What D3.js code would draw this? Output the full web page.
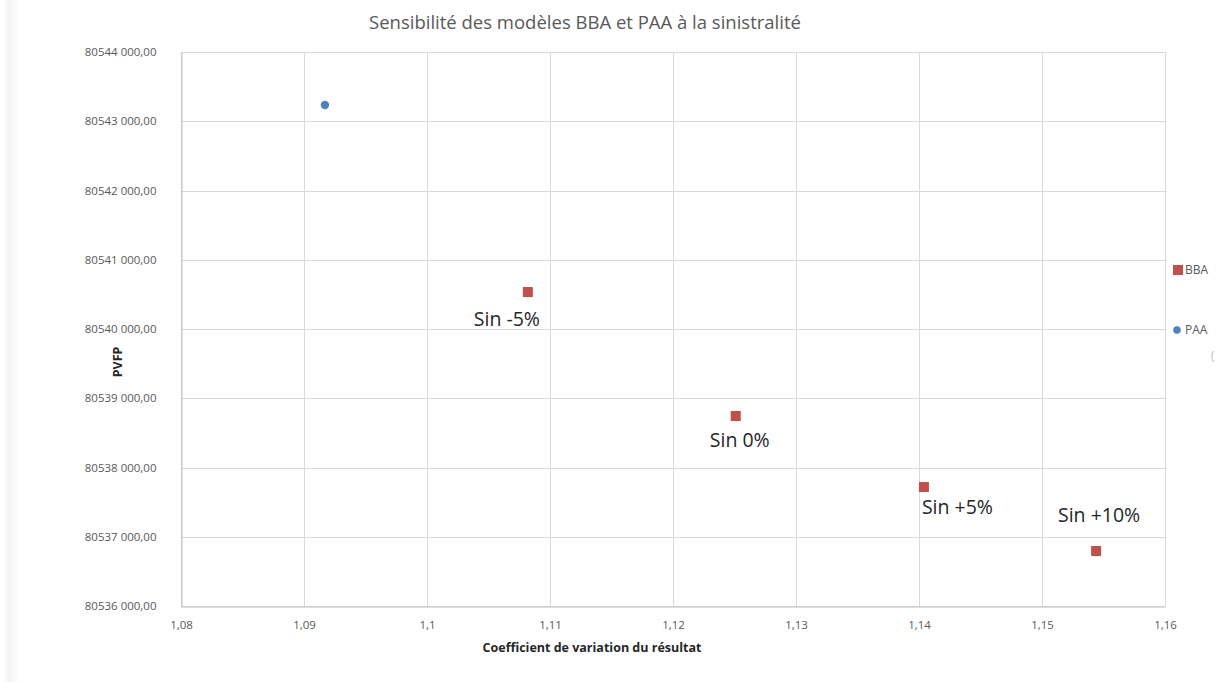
<!DOCTYPE html>
<html>
<head>
<meta charset="utf-8">
<script src="https://cdn.jsdelivr.net/npm/d3@7"></script>
<style>
  html, body { margin: 0; padding: 0; background: #fff; }
  svg { display: block; }
</style>
</head>
<body>
<svg id="chart" width="1216" height="682"></svg>
<script>
// Scenario data: coefficient of variation of the result vs PVFP
const bbaLabels = ["Sin -5%", "Sin 0%", "Sin +5%", "Sin +10%"];
const bbaX = [1.1082, 1.1251, 1.1404, 1.1544];
const bbaY = [80540534, 80538744, 80537718, 80536794];
const paaX = [1.0917];
const paaY = [80543235];
const xTicks = [1.08, 1.09, 1.10, 1.11, 1.12, 1.13, 1.14, 1.15, 1.16];
const yTicks = [80536000, 80537000, 80538000, 80539000, 80540000, 80541000, 80542000, 80543000, 80544000];

(function () {
  const svg = d3.select("#chart");
  const H = 682;
  const plotL = 181, plotR = 1165, plotT = 52, plotB = 606;
  const font = "'Open Sans', Lato, 'Liberation Sans', sans-serif";

  // faint frame shadow on the left edge
  const defs = svg.append("defs");
  const g1 = defs.append("linearGradient").attr("id", "shadeL");
  g1.append("stop").attr("offset", "0").attr("stop-color", "#ffffff");
  g1.append("stop").attr("offset", "0.3").attr("stop-color", "#f3f3f3");
  g1.append("stop").attr("offset", "1").attr("stop-color", "#ffffff");
  svg.append("rect").attr("x", 4).attr("y", 0).attr("width", 16).attr("height", H).attr("fill", "url(#shadeL)");

  const x = d3.scaleLinear().domain([1.08, 1.16]).range([plotL, plotR]);
  const y = d3.scaleLinear().domain([80536000, 80544000]).range([plotB, plotT]);

  // gridlines
  svg.append("g").selectAll("line").data(xTicks).join("line")
    .attr("x1", d => Math.round(x(d)) + 0.5).attr("x2", d => Math.round(x(d)) + 0.5)
    .attr("y1", plotT).attr("y2", plotB)
    .attr("stroke", "#d9d9d9").attr("stroke-width", 1);
  svg.append("g").selectAll("line").data(yTicks).join("line")
    .attr("y1", d => Math.round(y(d)) + 0.5).attr("y2", d => Math.round(y(d)) + 0.5)
    .attr("x1", plotL).attr("x2", plotR)
    .attr("stroke", "#d9d9d9").attr("stroke-width", 1);

  // axes
  const fmtX = v => d3.format(".2~f")(v).replace(".", ",");
  const fmtY = v => {
    const s = Math.round(v).toString();
    return s.slice(0, 5) + " " + s.slice(5) + ",00";
  };

  const yAxis = svg.append("g").attr("transform", `translate(${plotL + 0.5},0)`)
    .call(d3.axisLeft(y).tickValues(yTicks).tickSize(0).tickPadding(25).tickFormat(fmtY));
  yAxis.select(".domain").attr("stroke", "#bfbfbf");
  yAxis.selectAll("text").attr("fill", "#595959").style("font-family", font).style("font-size", "11.5px");

  const xAxis = svg.append("g").attr("transform", `translate(0,${plotB + 0.5})`)
    .call(d3.axisBottom(x).tickValues(xTicks).tickSize(0).tickPadding(14).tickFormat(fmtX));
  xAxis.select(".domain").attr("stroke", "#bfbfbf");
  xAxis.selectAll("text").attr("fill", "#595959").style("font-family", font).style("font-size", "11.5px");

  // title
  svg.append("text").attr("x", 585).attr("y", 29).attr("text-anchor", "middle")
    .attr("fill", "#595959").style("font-family", font).style("font-size", "18.5px")
    .text("Sensibilité des modèles BBA et PAA à la sinistralité");

  // axis titles
  svg.append("text").attr("x", 592).attr("y", 652).attr("text-anchor", "middle")
    .attr("fill", "#262626").style("font-family", font).style("font-size", "12.5px").style("font-weight", "bold")
    .text("Coefficient de variation du résultat");
  svg.append("text").attr("transform", "translate(122,362) rotate(-90)").attr("text-anchor", "middle")
    .attr("fill", "#262626").style("font-family", font).style("font-size", "12.5px").style("font-weight", "bold")
    .text("PVFP");

  // BBA series (squares)
  const bba = bbaX.map((v, i) => ({ x: v, y: bbaY[i], label: bbaLabels[i] }));
  svg.append("g").selectAll("rect").data(bba).join("rect")
    .attr("x", d => x(d.x) - 5).attr("y", d => y(d.y) - 5)
    .attr("width", 10).attr("height", 10).attr("fill", "#c0504d");

  // PAA series (circles)
  const paa = paaX.map((v, i) => ({ x: v, y: paaY[i] }));
  svg.append("g").selectAll("circle").data(paa).join("circle")
    .attr("cx", d => x(d.x)).attr("cy", d => y(d.y)).attr("r", 4.2).attr("fill", "#4f81bd");

  // data labels
  const labelPos = [
    { dx: -21, dy: 34, anchor: "middle" },
    { dx: 4, dy: 31, anchor: "middle" },
    { dx: -2, dy: 27, anchor: "start" },
    { dx: 3, dy: -29, anchor: "middle" }
  ];
  svg.append("g").selectAll("text").data(bba).join("text")
    .attr("x", (d, i) => x(d.x) + labelPos[i].dx)
    .attr("y", (d, i) => y(d.y) + labelPos[i].dy)
    .attr("text-anchor", (d, i) => labelPos[i].anchor)
    .attr("fill", "#262626").style("font-family", font).style("font-size", "19.5px")
    .text(d => d.label);

  // legend
  const leg = svg.append("g");
  leg.append("rect").attr("x", 1173).attr("y", 265).attr("width", 10).attr("height", 10).attr("fill", "#c0504d");
  leg.append("text").attr("x", 1185).attr("y", 274).attr("fill", "#595959")
    .style("font-family", font).style("font-size", "12px").text("BBA");
  leg.append("circle").attr("cx", 1177).attr("cy", 330).attr("r", 3.8).attr("fill", "#4f81bd");
  leg.append("text").attr("x", 1185).attr("y", 334).attr("fill", "#595959")
    .style("font-family", font).style("font-size", "12px").text("PAA");
  leg.append("text").attr("x", 1211).attr("y", 360).attr("fill", "#bfbfbf")
    .style("font-family", font).style("font-size", "12px").text("(");
})();
</script>
</body>
</html>
